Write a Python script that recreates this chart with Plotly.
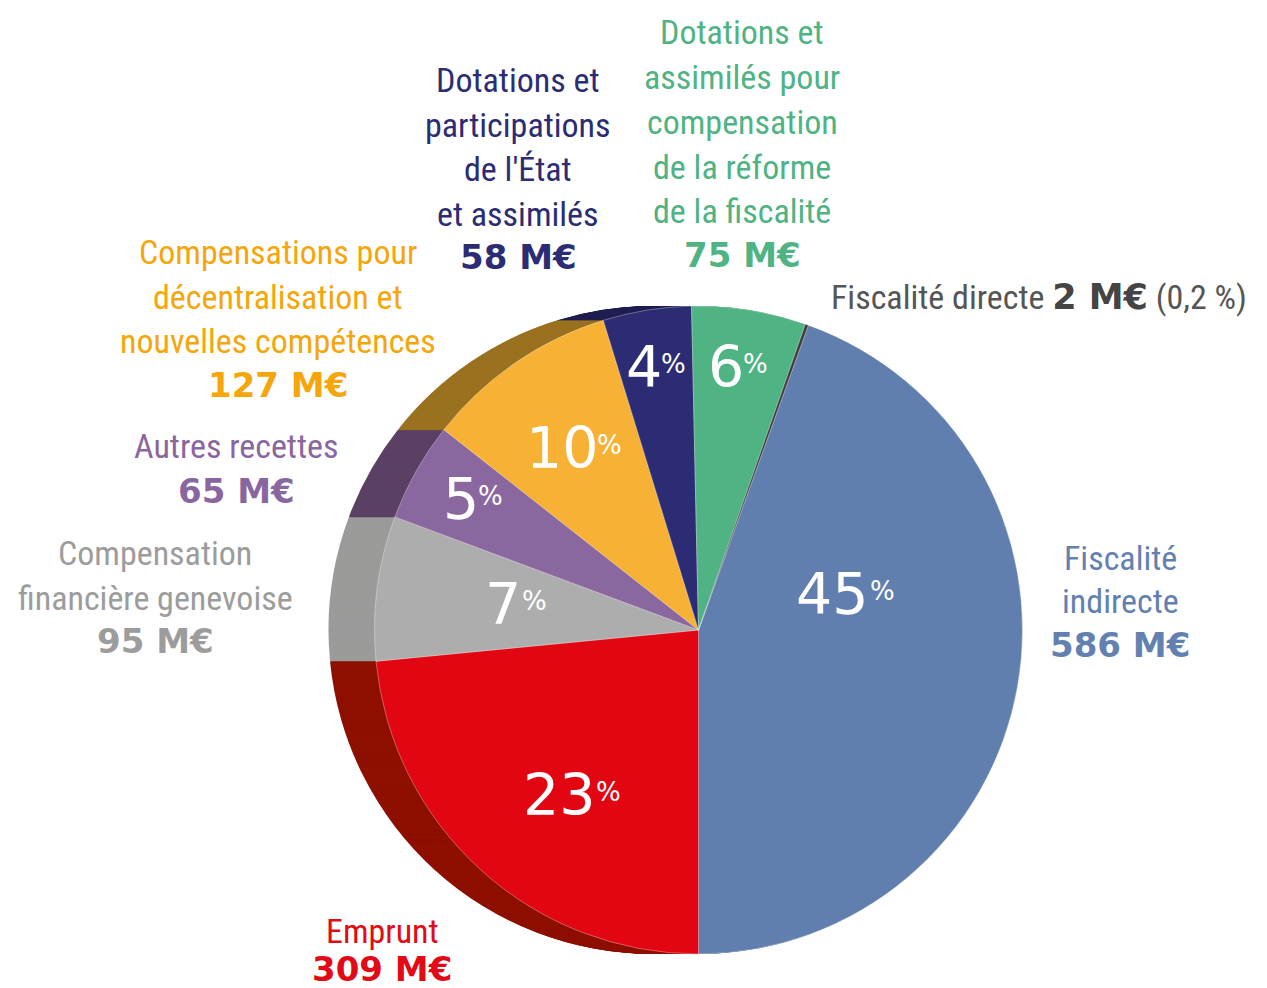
import plotly.graph_objects as go

# ---- data ----
labels = [
    "Fiscalité indirecte",
    "Emprunt",
    "Compensation financière genevoise",
    "Autres recettes",
    "Compensations pour décentralisation et nouvelles compétences",
    "Dotations et participations de l'État et assimilés",
    "Dotations et assimilés pour compensation de la réforme de la fiscalité",
    "Fiscalité directe",
]
values = [586, 309, 95, 65, 127, 58, 75, 2]
pct_text = ["45", "23", "7", "5", "10", "4", "6", ""]
label_lines = [
    ["Fiscalité", "indirecte"],
    ["Emprunt"],
    ["Compensation", "financière genevoise"],
    ["Autres recettes"],
    ["Compensations pour", "décentralisation et", "nouvelles compétences"],
    ["Dotations et", "participations", "de l'État", "et assimilés"],
    ["Dotations et", "assimilés pour", "compensation", "de la réforme", "de la fiscalité"],
    [],
]
value_text = ["586 M€", "309 M€", "95 M€", "65 M€", "127 M€", "58 M€", "75 M€", "2 M€"]

# ---- styles ----
colors = ["#607FAE", "#E20613", "#ADADAD", "#8B67A0", "#F7B135", "#2B2C73", "#50B383", "#3A3A3A"]
shadow_colors = ["#3E5575", "#8E1000", "#9B9B9A", "#5B4165", "#9A7220", "#1F1F52", "#347A58", "#222222"]
text_colors = ["#6281B0", "#E20A16", "#9C9C9C", "#8A66A0", "#F4A60A", "#2B2C73", "#4FB383", "#555555"]

W, H = 1267, 988
CX, CY, R = 698.5, 630.0, 324.0
DEPTH = 46
label_font = "Roboto Condensed, Roboto, sans-serif"
value_font = "DejaVu Sans, sans-serif"
pct_font = "DejaVu Sans, sans-serif"

total = sum(values)
rotation = 180 - 360 * values[0] / total


def dom(cx, cy, r):
    return dict(x=[(cx - r) / W, (cx + r) / W], y=[(H - cy - r) / H, (H - cy + r) / H])


fig = go.Figure()

# extruded side (stack of offset pies)
for d in range(DEPTH, 0, -1):
    fig.add_trace(go.Pie(
        labels=labels, values=values, sort=False, direction="clockwise",
        rotation=rotation, marker=dict(colors=shadow_colors, line=dict(width=0)),
        textinfo="none", hoverinfo="skip", domain=dom(CX - d, CY, R), showlegend=False,
    ))

# main pie
fig.add_trace(go.Pie(
    labels=labels, values=values, sort=False, direction="clockwise",
    rotation=rotation,
    marker=dict(colors=colors, line=dict(width=0.6, color="rgba(255,255,255,0.55)")),
    textinfo="none", hoverinfo="label+value", domain=dom(CX, CY, R), showlegend=False,
))

# percentage labels: digits anchor (right) x, % anchor (left) x, center y of digits
pct_pos = [(871, 868, 594), (598, 594, 795), (523, 520, 604), (481, 476, 499),
           (601, 595, 448), (664, 659, 367), (746, 741, 367), None]
for t, pos in zip(pct_text, pct_pos):
    if not t or pos is None:
        continue
    xd, xp, y = pos
    fig.add_annotation(x=xd, y=y, xref="x", yref="y", text=t, showarrow=False,
                       xanchor="right", yanchor="middle",
                       font=dict(family=pct_font, size=57, color="white"))
    fig.add_annotation(x=xp, y=y - 3, xref="x", yref="y", text="%", showarrow=False,
                       xanchor="left", yanchor="middle",
                       font=dict(family=pct_font, size=26, color="white"))

# category labels: x center, y center of each line
lab_x = [1120, 382, 155, 236, 278, 518, 742, None]
lab_y = [
    [558, 601, 645],
    [931, 969],
    [553, 598, 641],
    [446, 491],
    [252, 297, 341, 385],
    [80, 125, 169, 214, 257],
    [32, 77, 122, 167, 211, 255],
    [],
]
for lines, val, col, x, ys in zip(label_lines, value_text, text_colors, lab_x, lab_y):
    if x is None:
        continue
    for i, y in enumerate(ys):
        if i < len(lines):
            fig.add_annotation(x=x, y=y, xref="x", yref="y", text=lines[i], showarrow=False,
                               xanchor="center", yanchor="middle",
                               font=dict(family=label_font, size=34, color=col))
        else:
            fig.add_annotation(x=x, y=y, xref="x", yref="y", text=val, showarrow=False,
                               xanchor="center", yanchor="middle",
                               font=dict(family=value_font, size=34, color=col, weight="bold"))

# Fiscalité directe label
fig.add_annotation(
    x=829, y=297, xref="x", yref="y", showarrow=False, xanchor="left", yanchor="middle",
    text=(f"{labels[7]} <span style='font-family:DejaVu Sans;font-weight:bold;font-size:35px;"
          f"color:#444444'>{value_text[7]}</span> (0,2 %)"),
    font=dict(family=label_font, size=34, color=text_colors[7]),
)

fig.update_layout(
    width=W, height=H, margin=dict(l=0, r=0, t=0, b=0),
    paper_bgcolor="white", plot_bgcolor="white", showlegend=False,
    xaxis=dict(range=[0, W], visible=False, fixedrange=True),
    yaxis=dict(range=[H, 0], visible=False, fixedrange=True),
)

fig.write_html("out.html", config={"displayModeBar": False},
               post_script="document.body.style.margin='0px';")
